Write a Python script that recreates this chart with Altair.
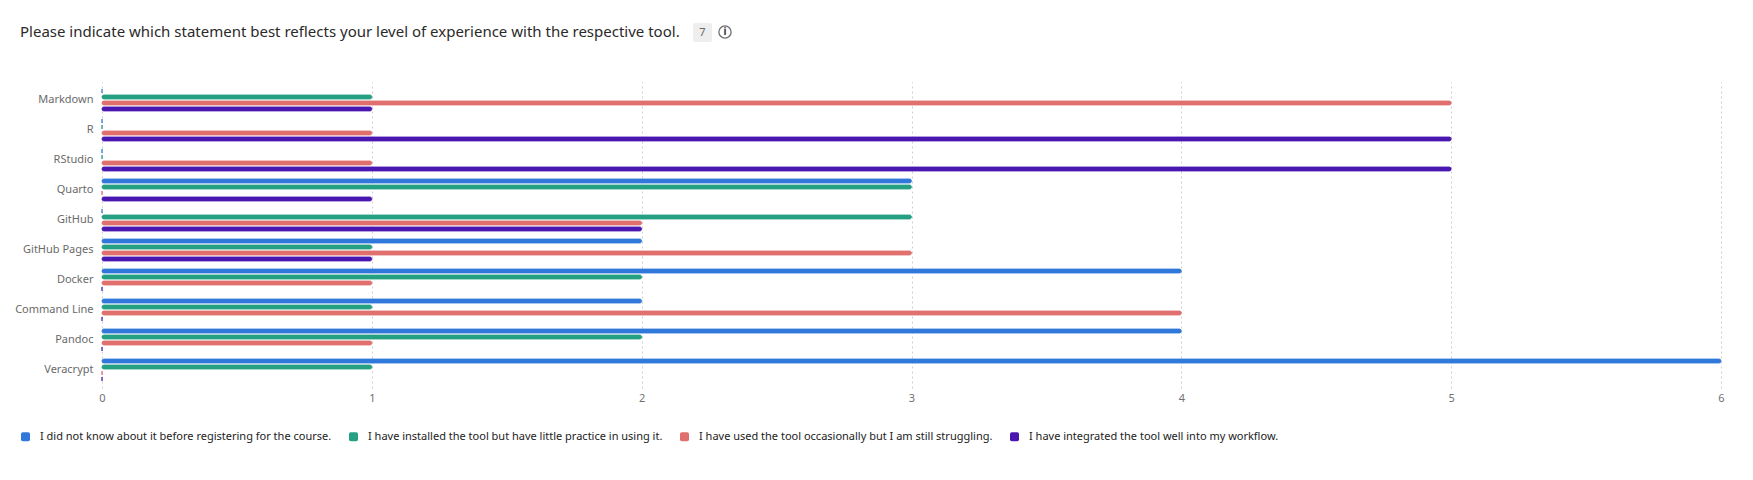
import altair as alt
import pandas as pd

tools = ["Markdown", "R", "RStudio", "Quarto", "GitHub", "GitHub Pages",
         "Docker", "Command Line", "Pandoc", "Veracrypt"]
series = [
    "I did not know about it before registering for the course.",
    "I have installed the tool but have little practice in using it.",
    "I have used the tool occasionally but I am still struggling.",
    "I have integrated the tool well into my workflow.",
]
did_not_know = [0, 0, 0, 3, 0, 2, 4, 2, 4, 6]
installed = [1, 0, 0, 3, 3, 1, 2, 1, 2, 1]
occasionally = [5, 1, 1, 0, 2, 3, 1, 4, 1, 0]
integrated = [1, 5, 5, 1, 2, 1, 0, 0, 0, 0]
colors = ["#3079DB", "#25A082", "#E0706E", "#4A18B0"]
x_ticks = [0, 1, 2, 3, 4, 5, 6]
title_text = "Please indicate which statement best reflects your level of experience with the respective tool."
badge_text = "7"

rows = []
for s, vals in zip(series, [did_not_know, installed, occasionally, integrated]):
    for t, v in zip(tools, vals):
        rows.append({"tool": t, "series": s, "count": v})
df = pd.DataFrame(rows)

FONT = "Noto Sans"

bars = alt.Chart(df).mark_bar(
    cornerRadius=2, strokeWidth=0.8
).encode(
    x=alt.X("count:Q", scale=alt.Scale(domain=[0, 6], nice=False),
            axis=alt.Axis(values=x_ticks, title=None, format="d", grid=True,
                          gridColor="#cfcfcf", gridDash=[2, 3], gridWidth=1,
                          domain=False, ticks=False, labelColor="#707070",
                          labelFontSize=11, labelFont=FONT, labelPadding=4,
                          labelFlush=False)),
    y=alt.Y("tool:N", sort=tools,
            scale=alt.Scale(paddingInner=0.267, paddingOuter=0.233),
            axis=alt.Axis(title=None, domain=False, ticks=False, labelColor="#6a6a6a",
                          labelFontSize=11, labelFont=FONT, labelPadding=9)),
    yOffset=alt.YOffset("series:N", sort=series,
                        scale=alt.Scale(paddingInner=0.33, paddingOuter=0)),
    color=alt.Color("series:N", sort=series,
                    scale=alt.Scale(domain=series, range=colors),
                    legend=alt.Legend(title=None, orient="none", direction="horizontal",
                                      legendX=-82, legendY=349, columnPadding=16,
                                      labelOffset=9, labelFontSize=11, labelFont=FONT,
                                      labelColor="#222222", labelLimit=400,
                                      symbolSize=81, symbolStrokeWidth=0,
                                      symbolType="M-1,-0.6Q-1,-1 -0.6,-1L0.6,-1Q1,-1 1,-0.6L1,0.6Q1,1 0.6,1L-0.6,1Q-1,1 -1,0.6Z")),
    stroke=alt.Color("series:N", sort=series,
                     scale=alt.Scale(domain=series, range=colors), legend=None),
)

title_df = pd.DataFrame({"t": [title_text]})
title_mark = alt.Chart(title_df).mark_text(
    fontSize=15, color="#2a2a2a", font=FONT, baseline="middle", align="left"
).encode(x=alt.value(-82), y=alt.value(-50), text="t:N")

badge_df = pd.DataFrame({"t": [badge_text]})
badge_rect = alt.Chart(badge_df).mark_rect(color="#eeeeee", cornerRadius=2).encode(
    x=alt.value(591), x2=alt.value(610), y=alt.value(-59), y2=alt.value(-40)
)
badge_label = alt.Chart(badge_df).mark_text(
    fontSize=11, color="#666666", font=FONT, baseline="middle", align="center"
).encode(x=alt.value(600.5), y=alt.value(-49.5), text="t:N")

info_df = pd.DataFrame({"t": ["i"]})
info_circle = alt.Chart(info_df).mark_point(
    shape="circle", filled=False, size=150, stroke="#333333", strokeWidth=1.3
).encode(x=alt.value(623), y=alt.value(-50))
info_i = alt.Chart(info_df).mark_text(
    fontSize=10, color="#333333", font=FONT, fontWeight="bold",
    baseline="middle", align="center"
).encode(x=alt.value(623), y=alt.value(-50), text="t:N")

chart = alt.layer(bars, title_mark, badge_rect, badge_label, info_circle, info_i).properties(
    width=1619, height=306,
    autosize=alt.AutoSizeParams(type="none"),
    padding={"left": 94, "top": 74, "right": 20, "bottom": 70},
).configure_view(stroke=None)

chart.save("out.html", embed_options={"renderer": "svg", "actions": False})
